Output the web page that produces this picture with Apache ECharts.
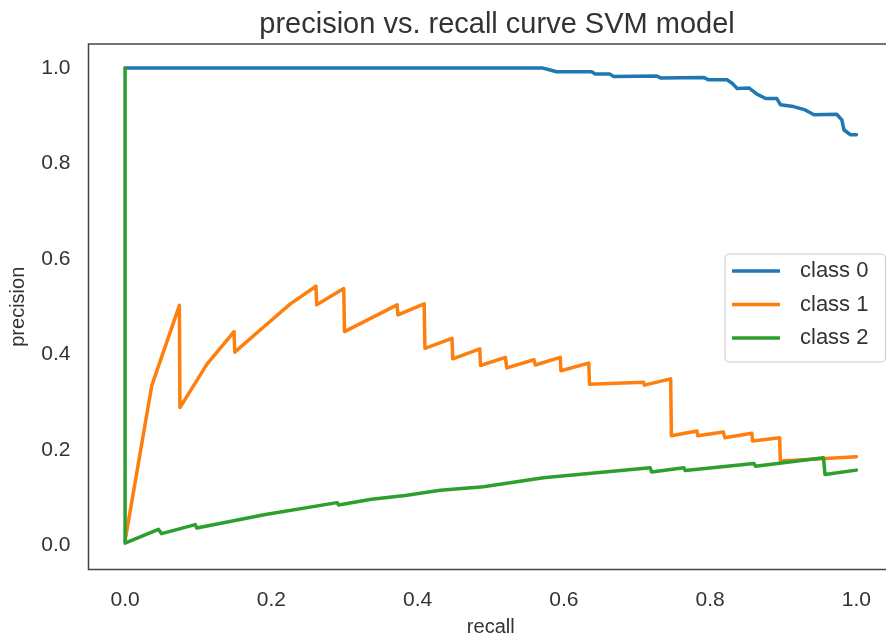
<!DOCTYPE html>
<html>
<head>
<meta charset="utf-8">
<script src="https://cdn.jsdelivr.net/npm/echarts@6/dist/echarts.min.js"></script>
<style>
  html, body { margin: 0; padding: 0; background: #fff; }
  #chart { width: 886px; height: 639px; }
</style>
</head>
<body>
<div id="chart"></div>
<script>
// Precision / recall points per class (recall ascending)
const recall0 = [0, 0.570, 0.580, 0.590, 0.638, 0.643, 0.663, 0.668, 0.727, 0.732, 0.791, 0.798, 0.823, 0.830, 0.837, 0.853, 0.864, 0.876, 0.891, 0.896, 0.914, 0.930, 0.942, 0.973, 0.980, 0.983, 0.992, 1.0];
const precision0 = [1.0, 1.0, 0.996, 0.992, 0.992, 0.987, 0.987, 0.982, 0.983, 0.979, 0.980, 0.975, 0.975, 0.968, 0.957, 0.958, 0.945, 0.936, 0.936, 0.923, 0.919, 0.912, 0.902, 0.903, 0.891, 0.870, 0.860, 0.860];

const recall1 = [0, 0.0365, 0.0743, 0.075, 0.112, 0.149, 0.150, 0.189, 0.226, 0.261, 0.262, 0.299, 0.300, 0.372, 0.373, 0.409, 0.410, 0.447, 0.448, 0.485, 0.486, 0.520, 0.522, 0.559, 0.561, 0.595, 0.596, 0.634, 0.635, 0.709, 0.710, 0.746, 0.747, 0.782, 0.783, 0.818, 0.820, 0.857, 0.858, 0.895, 0.896, 1.0];
const precision1 = [0.01, 0.335, 0.503, 0.289, 0.380, 0.448, 0.405, 0.457, 0.506, 0.543, 0.504, 0.538, 0.448, 0.504, 0.483, 0.506, 0.413, 0.434, 0.391, 0.412, 0.377, 0.394, 0.372, 0.389, 0.378, 0.394, 0.366, 0.382, 0.338, 0.342, 0.336, 0.349, 0.230, 0.240, 0.230, 0.238, 0.226, 0.235, 0.219, 0.226, 0.177, 0.186];

const recall2 = [0, 0, 0.0456, 0.050, 0.096, 0.098, 0.192, 0.194, 0.290, 0.292, 0.337, 0.383, 0.431, 0.490, 0.572, 0.574, 0.718, 0.720, 0.764, 0.766, 0.860, 0.862, 0.955, 0.957, 1.0];
const precision2 = [1.0, 0.005, 0.034, 0.025, 0.044, 0.037, 0.065, 0.062, 0.090, 0.085, 0.097, 0.105, 0.116, 0.123, 0.142, 0.139, 0.163, 0.154, 0.163, 0.157, 0.172, 0.166, 0.184, 0.149, 0.158];

const classNames = ['class 0', 'class 1', 'class 2'];
const classColors = ['#1f77b4', '#ff7f0e', '#2ca02c'];
const tickValues = [0, 0.2, 0.4, 0.6, 0.8, 1.0];

const curves = [[recall0, precision0], [recall1, precision1], [recall2, precision2]];
const FONT = '"Liberation Sans", Arial, sans-serif';
const TEXT = '#333333';

const chart = echarts.init(document.getElementById('chart'), null, { renderer: 'canvas' });
chart.setOption({
  animation: false,
  backgroundColor: '#ffffff',
  title: {
    text: 'precision vs. recall curve SVM model',
    left: 492, top: 5, textAlign: 'center',
    textStyle: { fontFamily: FONT, fontSize: 29, fontWeight: 'normal', color: TEXT }
  },
  grid: {
    left: 88.5, right: -7, top: 44, bottom: 69.5,
    outerBoundsMode: 'none', containLabel: false,
    show: true, borderColor: '#444', borderWidth: 1.5, backgroundColor: 'transparent'
  },
  legend: {
    orient: 'vertical', left: 725, top: 254,
    data: classNames.map((n, i) => ({ name: n, icon: 'rect', itemStyle: { color: classColors[i] } })),
    itemWidth: 48, itemHeight: 3.5, itemGap: 11.5,
    padding: [6, 17, 13, 7],
    backgroundColor: '#ffffff', borderColor: '#cccccc', borderWidth: 1, borderRadius: 4,
    textStyle: { fontFamily: FONT, fontSize: 22, color: TEXT, lineHeight: 22, padding: [0, 0, 0, 15] }
  },
  xAxis: {
    type: 'value', min: -0.05, max: 1.05,
    name: 'recall', nameLocation: 'middle', nameGap: 48,
    nameTextStyle: { fontFamily: FONT, fontSize: 20, color: TEXT },
    axisLine: { show: false }, axisTick: { show: false }, splitLine: { show: false },
    axisLabel: {
      customValues: tickValues, formatter: v => v.toFixed(1), margin: 20,
      fontFamily: FONT, fontSize: 21, color: TEXT
    }
  },
  yAxis: {
    type: 'value', min: -0.05, max: 1.05,
    name: 'precision', nameLocation: 'middle', nameGap: 60, nameRotate: 90,
    nameTextStyle: { fontFamily: FONT, fontSize: 20, color: TEXT },
    axisLine: { show: false }, axisTick: { show: false }, splitLine: { show: false },
    axisLabel: {
      customValues: tickValues, formatter: v => v.toFixed(1), margin: 18,
      fontFamily: FONT, fontSize: 21, color: TEXT
    }
  },
  series: curves.map(([r, p], i) => ({
    name: classNames[i],
    type: 'line',
    data: r.map((x, k) => [x, p[k]]),
    showSymbol: false,
    color: classColors[i],
    lineStyle: { width: 3.5, color: classColors[i], join: 'round', cap: 'round' },
    z: 2 + i
  }))
});
</script>
</body>
</html>
